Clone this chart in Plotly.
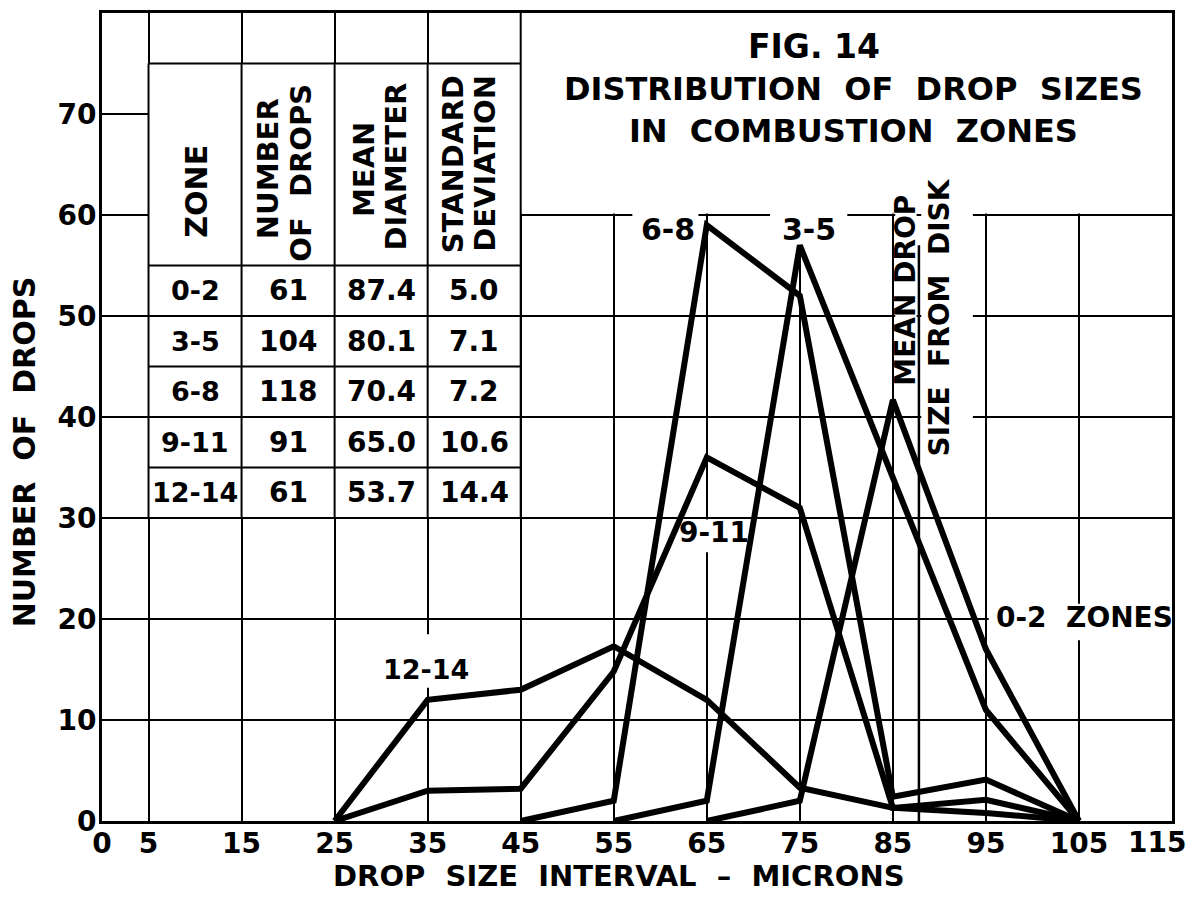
import plotly.graph_objects as go

# ---------------- data ----------------
size_0_2 = [65, 75, 85, 95, 105]
drops_0_2 = [0, 2, 41.7, 17, 0]

size_3_5 = [55, 65, 75, 85, 95, 105]
drops_3_5 = [0, 2, 57, 34, 11, 0]

size_6_8 = [45, 55, 65, 75, 85, 95, 105]
drops_6_8 = [0, 2, 59, 52, 2.4, 4.1, 0]

size_9_11 = [25, 35, 45, 55, 65, 75, 85, 95, 105]
drops_9_11 = [0, 3, 3.2, 14.8, 36, 31, 1.3, 2.1, 0]

size_12_14 = [25, 35, 45, 55, 65, 75, 85, 95, 105]
drops_12_14 = [0, 12, 13, 17.3, 12, 3.3, 1.3, 0.8, 0]

mean_disk_size = 87.8
mean_disk_top = 57

x_ticks = [0, 5, 15, 25, 35, 45, 55, 65, 75, 85, 95, 105, 115]
y_ticks = [0, 10, 20, 30, 40, 50, 60, 70]

table_zones = ["0-2", "3-5", "6-8", "9-11", "12-14"]
table_numbers = ["61", "104", "118", "91", "61"]
table_means = ["87.4", "80.1", "70.4", "65.0", "53.7"]
table_sds = ["5.0", "7.1", "7.2", "10.6", "14.4"]

FONT = "DejaVu Sans"
INK = "black"

# plot-area placement in the page (page body has an 8px margin)
L, T, PW, PH = 102, 10, 1070, 811


def px_to_paper(px, py):
    return (px - L) / PW, (T + PH - py) / PH


fig = go.Figure()

series = [
    (size_0_2, drops_0_2, "0-2"),
    (size_3_5, drops_3_5, "3-5"),
    (size_6_8, drops_6_8, "6-8"),
    (size_9_11, drops_9_11, "9-11"),
    (size_12_14, drops_12_14, "12-14"),
]
for xs, ys, name in series:
    fig.add_trace(go.Scatter(x=xs, y=ys, mode="lines", name=name,
                             line=dict(color=INK, width=6),
                             hoverinfo="skip"))

shapes = []


def mask(x0, x1, y0, y1):
    shapes.append(dict(type="rect", xref="x", yref="y", x0=x0, x1=x1, y0=y0, y1=y1,
                       fillcolor="white", line=dict(width=0), layer="between"))


def seg(x0, y0, x1, y1, w=2):
    shapes.append(dict(type="line", xref="x", yref="y", x0=x0, y0=y0, x1=x1, y1=y1,
                       line=dict(color=INK, width=w), layer="between"))


# table region and title region masks (hide grid)
mask(5, 45, 30, 75)
mask(45, 115, 60.15, 80)
# gaps in grid behind labels
mask(57.0, 64.1, 59.3, 60.7)        # 6-8
mask(71.8, 80.1, 56.9, 60.7)        # 3-5
mask(30.5, 40.0, 13.2, 18.5)        # 12-14
mask(62.5, 69.4, 26.6, 29.85)       # 9-11
mask(95.3, 115, 17.9, 21.5)         # 0-2 zones
mask(85.25, 87.55, 42.0, 60.7)      # MEAN DROP
mask(88.05, 93.6, 35.5, 60.7)       # SIZE FROM DISK

# table lines
for cx in [5, 15, 25, 35, 45]:
    seg(cx, 30, cx, 80 if cx == 45 else 75)
for ry in [75, 55, 50, 45, 40, 35, 30]:
    seg(5, ry, 45, ry)

# mean drop size from disk line
seg(mean_disk_size, 0, mean_disk_size, mean_disk_top, w=2.5)

annotations = []


def txt(x, y, s, size, angle=0, xanchor="center", yanchor="middle"):
    annotations.append(dict(x=x, y=y, xref="x", yref="y", text=s, showarrow=False,
                            textangle=angle, xanchor=xanchor, yanchor=yanchor,
                            font=dict(family=FONT, size=size, color=INK, weight="bold")))


def ptxt(px, py, s, size, angle=0):
    xp, yp = px_to_paper(px, py)
    annotations.append(dict(x=xp, y=yp, xref="paper", yref="paper", text=s,
                            showarrow=False, textangle=angle,
                            xanchor="center", yanchor="middle",
                            font=dict(family=FONT, size=size, color=INK, weight="bold")))


# table header (rotated)
txt(10.2, 62.4, "ZONE", 30, -90)
txt(17.8, 64.6, "NUMBER", 29, -90)
txt(21.3, 64.2, "OF  DROPS", 29, -90)
txt(28.1, 64.5, "MEAN", 29, -90)
txt(31.5, 64.8, "DIAMETER", 29, -90)
txt(37.7, 65.0, "STANDARD", 29, -90)
txt(41.2, 65.1, "DEVIATION", 29, -90)

# table body
row_centers = [52.5, 47.5, 42.5, 37.5, 32.5]
for i in range(5):
    yc = row_centers[i]
    txt(10, yc, table_zones[i], 27)
    txt(20, yc, table_numbers[i], 28)
    txt(30, yc, table_means[i], 28)
    txt(40, yc, table_sds[i], 28)

# curve labels
txt(60.8, 58.6, "6-8", 30)
txt(76.0, 58.6, "3-5", 30)
txt(34.8, 15.0, "12-14", 27)
txt(65.8, 28.6, "9-11", 28)
txt(95.9, 20.1, "0-2  ZONES", 28, xanchor="left")

# mean drop text
txt(86.4, 52.6, "MEAN DROP", 28, -90)
txt(90.0, 49.9, "SIZE  FROM  DISK", 28, -90)

# titles
txt(76.5, 76.7, "FIG. 14", 33)
ptxt(853, 107, "DISTRIBUTION  OF  DROP  SIZES<br>IN  COMBUSTION  ZONES", 32)

# axis titles and the shifted last x tick label
ptxt(619, 876, "DROP  SIZE  INTERVAL  –  MICRONS", 29)
ptxt(24, 451, "NUMBER  OF  DROPS", 30, -90)
ptxt(1157, 843, "115", 28)

axis_common = dict(showgrid=True, gridcolor=INK, gridwidth=2, showline=True,
                   linecolor=INK, linewidth=3, mirror=True, ticks="",
                   zeroline=False,
                   tickfont=dict(family=FONT, size=28, color=INK, weight="bold"),
                   fixedrange=True)

x_text = [str(v) if v != 115 else "" for v in x_ticks]

fig.update_layout(
    width=1178, height=887,
    margin=dict(l=94, r=14, t=2, b=74),
    plot_bgcolor="white", paper_bgcolor="white",
    showlegend=False,
    xaxis=dict(range=[0, 115], tickvals=x_ticks, ticktext=x_text,
               ticklabelstandoff=-5, **axis_common),
    yaxis=dict(range=[0, 80], tickvals=y_ticks,
               ticktext=[str(v) for v in y_ticks], ticklabelstandoff=-3,
               **axis_common),
    shapes=shapes,
    annotations=annotations,
)

fig.write_html("out.html")
